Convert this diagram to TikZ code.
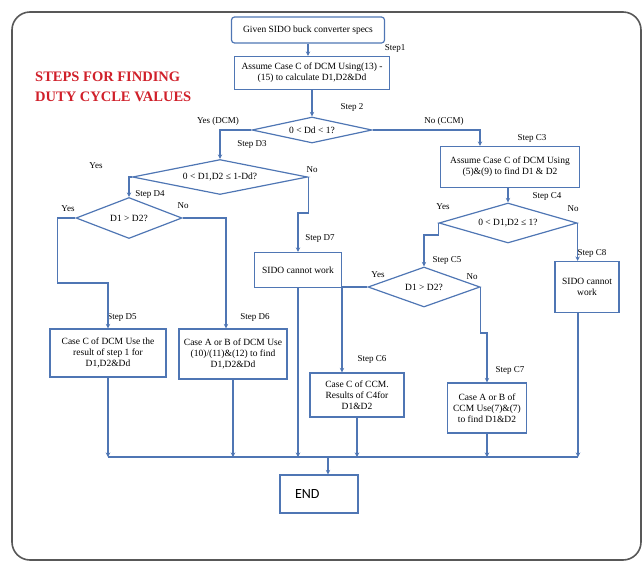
\documentclass[tikz,border=0pt]{standalone}
\usepackage{fontspec}
\setmainfont{Liberation Serif}
\newfontfamily\calibri{Carlito}
\usetikzlibrary{arrows.meta,shapes.geometric}
\definecolor{FlowBlue}{HTML}{4F76B4}
\definecolor{TitleRed}{HTML}{D0202A}
\definecolor{FrameGray}{HTML}{585858}

\begin{document}
\begin{tikzpicture}[x=1pt,y=-1pt,
  box/.style={draw=FlowBlue,line width=1.2pt,align=center,inner sep=1pt,font=\fontsize{9.5}{11}\selectfont},
  dia/.style={draw=FlowBlue,line width=1.2pt,diamond,aspect=6,inner sep=0pt,font=\fontsize{9.5}{11}\selectfont},
  lbl/.style={inner sep=0pt,font=\fontsize{9}{10}\selectfont},
  flow/.style={draw=FlowBlue,line width=1.2pt,-{Stealth[length=4.5pt,width=4.5pt]}},
  wire/.style={draw=FlowBlue,line width=1.2pt}]
  \useasboundingbox (0,0) rectangle (644,563);
  \draw[FrameGray,line width=1.6pt,rounded corners=18pt] (12,12) rectangle (641,560);
  \node[anchor=west,align=left,text=TitleRed,inner sep=0pt,font=\bfseries\fontsize{14.5}{20}\selectfont] (title) at (35,87) {STEPS FOR FINDING\\DUTY CYCLE VALUES};

  % DCM side
  \node[box,rounded corners=3pt,minimum width=153pt,minimum height=26pt] (start) at (308,30) {Given SIDO buck converter specs};
  \node[box,minimum width=155pt,minimum height=33pt] (b1) at (312,73) {Assume Case C of DCM Using(13) -\\(15) to calculate D1,D2\&Dd};
  \node[dia,minimum width=120pt,minimum height=26pt] (dd) at (312,130) {0 < Dd < 1?};
  \node[dia,minimum width=175pt,minimum height=35pt] (d3) at (220,177) {0 < D1,D2 ≤ 1-Dd?};
  \node[dia,minimum width=106pt,minimum height=41pt] (d4) at (129,218) {D1 > D2?};
  \node[box,minimum width=87pt,minimum height=35pt] (sido1) at (298,270) {SIDO cannot work};
  \node[box,minimum width=116pt,minimum height=48pt] (d5) at (108,353) {Case C of DCM Use the\\result of step 1 for\\D1,D2\&Dd};
  \node[box,minimum width=108pt,minimum height=50pt] (d6) at (233,354) {Case A or B of DCM Use\\(10)/(11)\&(12) to find\\D1,D2\&Dd};

  % CCM side
  \node[box,minimum width=139pt,minimum height=41pt] (c3) at (510,167) {Assume Case C of DCM Using\\(5)\&(9) to find D1 \& D2};
  \node[dia,minimum width=138pt,minimum height=40pt] (c4) at (508,223) {0 < D1,D2 ≤ 1?};
  \node[dia,minimum width=112pt,minimum height=40pt] (c5) at (424,287) {D1 > D2?};
  \node[box,minimum width=64pt,minimum height=51pt] (c8) at (587,287) {SIDO cannot\\work};
  \node[box,minimum width=94pt,minimum height=44pt] (c6) at (357,395) {Case C of CCM.\\Results of C4for\\D1\&D2};
  \node[box,minimum width=79pt,minimum height=50pt] (c7) at (487,408) {Case A or B of\\CCM Use(7)\&(7)\\to find D1\&D2};
  \node[box,minimum width=78pt,minimum height=38pt,text width=48pt,align=left,font=\calibri\fontsize{14}{16}\selectfont] (end) at (319,494) {END};

  \foreach \nm/\px/\py/\txt in {s1/395/48/Step1, s2/352/107/Step 2, ydcm/218/121/Yes (DCM), nccm/444/121/No (CCM),
      sd3/252/144/Step D3, yd3/96/166/Yes, nd3/312/170/No, sd4/150/194/Step D4, yd4/68/209/Yes, nd4/183/206/No,
      sd7/320/238/Step D7, sd5/122/317/Step D5, sd6/255/317/Step D6, sc3/532/138/Step C3, sc4/547/196/Step C4,
      yc4/443/207/Yes, nc4/573/209/No, sc8/592/253/Step C8, sc5/447/260/Step C5, yc5/378/275/Yes, nc5/472/277/No,
      sc6/372/359/Step C6, sc7/510/370/Step C7}
    \node[lbl] (\nm) at (\px,\py) {\txt};

  \draw[flow] (start.south) -- (start.south |- b1.north);
  \draw[flow] (b1.south) -- (dd.north);
  \draw[flow] (dd.west) -| (d3.north);
  \draw[flow] (dd.east) -| ([xshift=-30pt]c3.north);
  \draw[flow] (d3.west) -| (d4.north);
  \draw[flow] (d3.east) -- ++(0,36) -| (sido1.north);
  \draw[flow] (d4.west) -- ++(-18,0) -- ++(0,65) -| (d5.north);
  \draw[flow] (d4.east) -| ([xshift=-7pt]d6.north);
  \draw[flow] (c4.north |- c3.south) -- (c4.north);
  \draw[flow] (c4.west) -- ++(0,12) -| (c5.north);
  \draw[flow] (c4.east) -- (c4.east |- c8.north);
  \draw[flow] (c5.west) -| ([xshift=-15pt]c6.north);
  \draw[flow] (c5.east) -- ++(0,46) -| (c7.north);

  % collecting line to END
  \coordinate (bus) at (0,457);
  \foreach \n in {d5,d6,sido1,c6,c7} \draw[flow] (\n.south) -- (\n.south |- bus);
  \draw[flow] ([xshift=-9pt]c8.south) -- ([xshift=-9pt]c8.south |- bus);
  \draw[wire] (d5.south |- bus) -- ([xshift=-9pt]c8.south |- bus);
  \draw[flow] ([xshift=9pt]end.north |- bus) -- ([xshift=9pt]end.north);
\end{tikzpicture}
\end{document}
